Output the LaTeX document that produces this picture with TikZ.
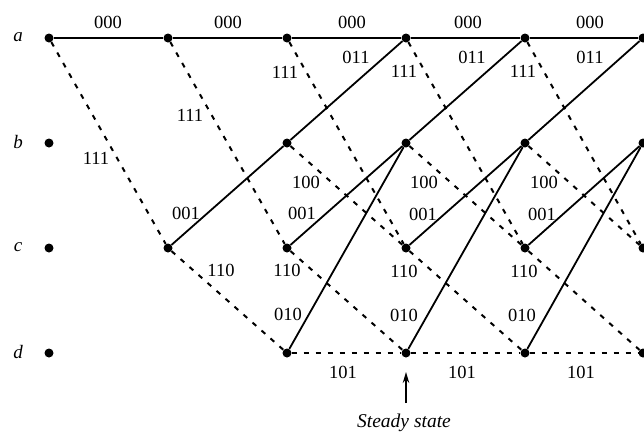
\documentclass[tikz,border=0pt]{standalone}
\usepackage{fontspec}
\setmainfont{Liberation Serif}
\usetikzlibrary{arrows.meta}
\begin{document}
\begin{tikzpicture}[x=1pt,y=-1pt,
  st/.style={circle,fill=black,inner sep=0pt,minimum size=9pt},
  zero/.style={line width=1.8pt},
  one/.style={line width=2pt,dash pattern=on 5pt off 7pt},
  lab/.style={font=\fontsize{18.5}{18.5}\selectfont,inner sep=0pt},
  stname/.style={font=\fontsize{19}{19}\selectfont\itshape,inner sep=0pt}]
\useasboundingbox (0,0) rectangle (644,432);
% state nodes
\foreach \i/\x in {1/49,2/168,3/287,4/406,5/525,6/643} {
  \node[st] (a\i) at (\x,38) {};
  \node[st] (c\i) at (\x,248) {};
}
\foreach \i/\x in {1/49,3/287,4/406,5/525,6/643} {
  \node[st] (b\i) at (\x,143) {};
  \node[st] (d\i) at (\x,353) {};
}
% state names
\node[stname] (na) at (18,37) {a};
\node[stname] (nb) at (18,142) {b};
\node[stname] (nc) at (18,247) {c};
\node[stname] (nd) at (18,352) {d};
% branches
\foreach \i/\j in {1/2,2/3,3/4,4/5,5/6} {
  \draw[zero] (a\i) -- (a\j);
  \draw[one] (a\i) -- (c\j);
}
\foreach \i/\j in {2/3,3/4,4/5,5/6} {
  \draw[zero] (c\i) -- (b\j);
  \draw[one] (c\i) -- (d\j);
}
\foreach \i/\j in {3/4,4/5,5/6} {
  \draw[zero] (b\i) -- (a\j);
  \draw[one] (b\i) -- (c\j);
  \draw[zero] (d\i) -- (b\j);
  \draw[one] (d\i) -- (d\j);
}
% branch labels
\foreach \k/\x/\y in {1/108/22,2/228/22,3/352/22,4/468/22,5/590/22}
  \node[lab] (lA\k) at (\x,\y) {000};
\foreach \k/\x/\y in {1/96/158,2/190/115,3/285/72,4/404/71,5/523/71}
  \node[lab] (lB\k) at (\x,\y) {111};
\foreach \k/\x/\y in {1/356/57,2/472/57,3/590/57}
  \node[lab] (lC\k) at (\x,\y) {011};
\foreach \k/\x/\y in {1/186/213,2/302/213,3/423/214,4/542/214}
  \node[lab] (lD\k) at (\x,\y) {001};
\foreach \k/\x/\y in {1/306/182,2/424/182,3/544/182}
  \node[lab] (lE\k) at (\x,\y) {100};
\foreach \k/\x/\y in {1/221/270,2/287/270,3/404/271,4/524/271}
  \node[lab] (lF\k) at (\x,\y) {110};
\foreach \k/\x/\y in {1/288/314,2/404/315,3/522/315}
  \node[lab] (lG\k) at (\x,\y) {010};
\foreach \k/\x/\y in {1/343/372,2/462/372,3/581/372}
  \node[lab] (lH\k) at (\x,\y) {101};
% steady state
\node[stname,font=\fontsize{19.5}{19.5}\selectfont\itshape] (ss) at (404,423) {Steady state};
\coordinate (tail) at (406,403);
\coordinate (tip) at (406,372);
\draw[line width=1.5pt,-{Stealth[length=11pt,width=6.5pt]}] (tail) -- (tip);
\end{tikzpicture}
\end{document}
